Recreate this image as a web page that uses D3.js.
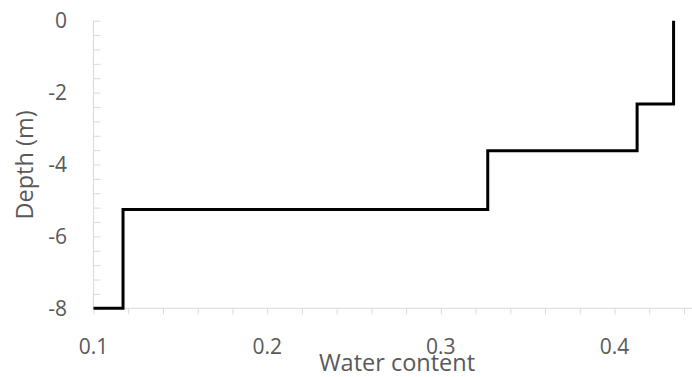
<!DOCTYPE html>
<html>
<head>
<meta charset="utf-8">
<script src="https://cdn.jsdelivr.net/npm/d3@7"></script>
<style>
  body { margin: 0; background: #fff; }
  text { font-family: 'Open Sans', sans-serif; fill: #595959; }
</style>
</head>
<body>
<svg></svg>
<script>
const SVG_WIDTH = 692;
const SVG_HEIGHT = 377;

// Layer tops (m) and the water content of each layer.
// The last point closes the profile at the bottom of the axis.
const depths = [0, -2.32, -3.62, -5.25, -8];
const waterContent = [0.434, 0.413, 0.327, 0.117, 0.1];

const xTickLabels = [0.1, 0.2, 0.3, 0.4];
const yTickLabels = [-8, -6, -4, -2, 0];

const svg = d3
  .select('svg')
  .attr('width', SVG_WIDTH)
  .attr('height', SVG_HEIGHT);

const x = d3.scaleLinear().domain([0.1, 0.44]).range([93.5, 684]);
const y = d3.scaleLinear().domain([-8, 0]).range([308.3, 20.7]);

const axisColor = '#d9d9d9';

// Minor ticks every 0.02 along the bottom.
const xMinor = d3.range(0, 18).map(i => 0.1 + i * 0.02);
const xAxis = svg
  .append('g')
  .attr('transform', `translate(0,${y(-8)})`)
  .call(
    d3.axisBottom(x).tickValues(xMinor).tickSize(6).tickFormat('')
  );
xAxis.select('.domain').attr('stroke', axisColor).attr('d', `M${x(0.1)},0H${x(0.44) + 8}`);
xAxis.selectAll('.tick line').attr('stroke', axisColor);

// Minor ticks every 0.4 m pointing into the plot.
const yMinor = d3.range(0, 21).map(i => -8 + i * 0.4);
const yAxis = svg
  .append('g')
  .attr('transform', `translate(${x(0.1)},0)`)
  .call(d3.axisRight(y).tickValues(yMinor).tickSize(7).tickFormat(''));
yAxis.select('.domain').attr('stroke', axisColor).attr('d', `M0,${y(0)}V${y(-8)}`);
yAxis.selectAll('.tick line').attr('stroke', axisColor);

// Tick labels.
svg
  .append('g')
  .selectAll('text')
  .data(xTickLabels)
  .join('text')
  .attr('x', d => x(d))
  .attr('y', 354)
  .attr('text-anchor', 'middle')
  .style('font-size', '21px')
  .text(d3.format('.1f'));

svg
  .append('g')
  .selectAll('text')
  .data(yTickLabels)
  .join('text')
  .attr('x', 67)
  .attr('y', d => y(d))
  .attr('dy', '0.36em')
  .attr('text-anchor', 'end')
  .style('font-size', '21px')
  .text(d => (d < 0 ? '-' + Math.abs(d) : d));

// Axis titles.
svg
  .append('text')
  .attr('x', 397)
  .attr('y', 371)
  .attr('text-anchor', 'middle')
  .style('font-size', '23.5px')
  .text('Water content');

svg
  .append('text')
  .attr('transform', 'translate(33,165) rotate(-90)')
  .attr('text-anchor', 'middle')
  .style('font-size', '23.5px')
  .text('Depth (m)');

// The stepped profile: down through each layer, then across to the next one.
const line = d3
  .line()
  .x(d => x(d[0]))
  .y(d => y(d[1]))
  .curve(d3.curveStepBefore);

svg
  .append('path')
  .datum(d3.zip(waterContent, depths))
  .attr('d', line)
  .attr('fill', 'none')
  .attr('stroke', '#000')
  .attr('stroke-width', 3);
</script>
</body>
</html>
